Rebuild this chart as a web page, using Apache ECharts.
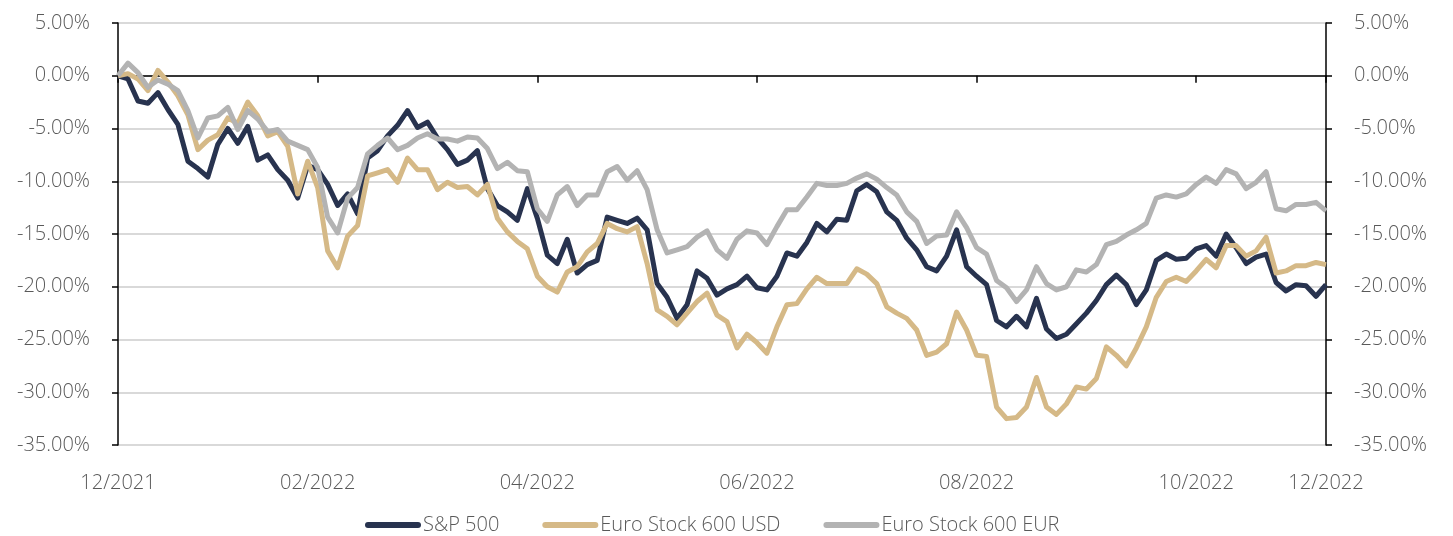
<!DOCTYPE html>
<html>
<head>
<meta charset="utf-8">
<title>S&amp;P 500 vs Euro Stock 600</title>
<script src="https://cdn.jsdelivr.net/npm/echarts@6/dist/echarts.min.js"></script>
<style>
    html, body { margin: 0; padding: 0; background: #fff; }
    #main { width: 1453px; height: 536px; }
</style>
</head>
<body>
<div id="main"></div>
<script>
// performance since 12/2021, in %
var sp500 = [0, -0.3, -2.4, -2.6, -1.6, -3.2, -4.6, -8.1, -8.8, -9.6, -6.5, -5.0, -6.4, -4.8, -8.0, -7.5, -8.9, -9.9, -11.6, -8.5,
    -8.9, -10.3, -12.3, -11.2, -13.1, -7.8, -7.1, -5.7, -4.7, -3.3, -4.9, -4.4, -5.9, -7.0, -8.4, -8.0, -7.1, -10.7, -12.3, -12.9,
    -13.7, -10.7, -13.5, -17.0, -17.8, -15.5, -18.7, -17.9, -17.5, -13.4, -13.7, -14.0, -13.5, -14.6, -19.7, -21.0, -23.0, -21.7, -18.5, -19.2,
    -20.8, -20.2, -19.8, -19.0, -20.1, -20.3, -19.0, -16.8, -17.1, -15.8, -14.0, -14.8, -13.6, -13.7, -10.9, -10.3, -11.0, -12.9, -13.7, -15.4,
    -16.5, -18.1, -18.5, -17.1, -14.6, -18.1, -19.0, -19.8, -23.2, -23.8, -22.8, -23.8, -21.1, -24.0, -24.9, -24.5, -23.5, -22.5, -21.3, -19.8,
    -18.9, -19.8, -21.7, -20.3, -17.5, -16.9, -17.4, -17.3, -16.4, -16.1, -17.1, -15.0, -16.3, -17.8, -17.2, -16.9, -19.6, -20.4, -19.8, -19.9,
    -20.9, -19.8];
var euroUsd = [0, 0.2, -0.3, -1.4, 0.5, -0.6, -1.9, -3.7, -7.0, -6.1, -5.6, -4.0, -4.5, -2.5, -3.8, -5.7, -5.3, -6.7, -11.2, -8.1,
    -10.6, -16.6, -18.2, -15.2, -14.2, -9.5, -9.2, -8.9, -10.1, -7.8, -8.9, -8.9, -10.8, -10.1, -10.6, -10.5, -11.3, -10.3, -13.5, -14.8,
    -15.7, -16.4, -19.0, -20.0, -20.5, -18.6, -18.1, -16.7, -15.9, -14.0, -14.5, -14.8, -14.3, -17.8, -22.2, -22.8, -23.6, -22.5, -21.4, -20.6,
    -22.7, -23.3, -25.8, -24.5, -25.3, -26.3, -23.8, -21.7, -21.6, -20.2, -19.1, -19.7, -19.7, -19.7, -18.3, -18.8, -19.7, -21.9, -22.5, -23.0,
    -24.1, -26.5, -26.2, -25.4, -22.4, -24.1, -26.5, -26.6, -31.4, -32.5, -32.4, -31.4, -28.6, -31.4, -32.1, -31.1, -29.5, -29.7, -28.7, -25.7,
    -26.5, -27.5, -25.8, -23.8, -21.0, -19.5, -19.1, -19.5, -18.5, -17.4, -18.2, -16.1, -16.1, -17.1, -16.6, -15.3, -18.7, -18.5, -18.0, -18.0,
    -17.7, -17.9];
var euroEur = [0, 1.2, 0.3, -1.1, -0.4, -0.8, -1.4, -3.3, -5.9, -4.0, -3.8, -3.0, -5.1, -3.3, -4.1, -5.3, -5.1, -6.2, -6.6, -7.0,
    -8.7, -13.4, -14.9, -11.6, -10.6, -7.4, -6.6, -5.9, -7.0, -6.6, -5.9, -5.5, -6.0, -6.0, -6.2, -5.8, -5.9, -6.9, -8.8, -8.2,
    -9.0, -9.1, -12.6, -13.8, -11.3, -10.5, -12.3, -11.3, -11.3, -9.1, -8.6, -9.9, -9.0, -10.8, -14.6, -16.8, -16.5, -16.2, -15.3, -14.7,
    -16.5, -17.3, -15.5, -14.7, -14.9, -16.0, -14.3, -12.7, -12.7, -11.5, -10.2, -10.4, -10.4, -10.2, -9.7, -9.3, -9.8, -10.6, -11.3, -12.9,
    -13.8, -15.9, -15.2, -15.1, -12.9, -14.4, -16.3, -16.9, -19.4, -20.1, -21.4, -20.3, -18.1, -19.7, -20.3, -20.0, -18.4, -18.6, -17.9, -16.0,
    -15.7, -15.1, -14.6, -14.0, -11.6, -11.3, -11.5, -11.2, -10.3, -9.6, -10.2, -8.9, -9.3, -10.7, -10.1, -9.1, -12.6, -12.8, -12.2, -12.2,
    -12.0, -12.8];

// x axis labels and the points they sit on
var tickIdx = [0, 20, 42, 64, 86, 108, 121];
var tickLabels = ['12/2021', '02/2022', '04/2022', '06/2022', '08/2022', '10/2022', '12/2022'];

var seriesNames = ['S&P 500', 'Euro Stock 600 USD', 'Euro Stock 600 EUR'];
var colors = ['#28334f', '#d5b987', '#b3b3b3'];

var categories = sp500.map(function (v, i) { return i; });

function isTick(index) {
    return tickIdx.indexOf(index) > -1;
}

var font = { color: '#595959', fontSize: 20, fontFamily: 'Open Sans', fontWeight: 300 };

var yAxisBase = {
    type: 'value',
    min: -35,
    max: 5,
    interval: 5,
    axisLine: { show: true, lineStyle: { color: '#000', width: 1.5 } },
    axisTick: { show: true, length: 6, lineStyle: { color: '#000', width: 1.5 } },
    axisLabel: {
        color: font.color, fontSize: font.fontSize, fontFamily: font.fontFamily, fontWeight: font.fontWeight,
        margin: 28,
        formatter: function (v) { return v.toFixed(2) + '%'; }
    }
};

var myChart = echarts.init(document.getElementById('main'));
var option = {
    animation: false,
    grid: { left: 118, right: 127, top: 23, bottom: 91 },
    legend: {
        top: 510,
        left: 360,
        // capsule shaped line key
        icon: 'path://M3,0 H53 A3,3 0 0 1 53,6 H3 A3,3 0 0 1 3,0 Z',
        itemWidth: 56,
        itemHeight: 6,
        itemGap: 43,
        textStyle: {
            color: font.color, fontSize: font.fontSize, fontFamily: font.fontFamily, fontWeight: font.fontWeight,
            padding: [0, 0, 0, -3]
        },
        data: seriesNames
    },
    xAxis: [{
        // labels at the bottom
        type: 'category',
        data: categories,
        boundaryGap: false,
        axisLine: { show: false, onZero: false },
        axisTick: { show: false },
        splitLine: { show: false },
        axisLabel: {
            color: font.color, fontSize: font.fontSize, fontFamily: font.fontFamily, fontWeight: font.fontWeight,
            margin: 28,
            interval: function (index) { return isTick(index); },
            formatter: function (value, index) { return tickLabels[tickIdx.indexOf(index)]; }
        }
    }, {
        // axis line crossing at 0%
        type: 'category',
        data: categories,
        boundaryGap: false,
        position: 'bottom',
        axisLine: { show: true, onZero: true, lineStyle: { color: '#000', width: 1.5 } },
        axisTick: { show: true, length: 7, interval: function (index) { return isTick(index); }, lineStyle: { color: '#000', width: 1.5 } },
        axisLabel: { show: false },
        splitLine: { show: false }
    }],
    yAxis: [
        echarts.util.merge({
            position: 'left',
            splitLine: { show: true, lineStyle: { color: '#d9d9d9', width: 2 } }
        }, yAxisBase),
        echarts.util.merge({
            position: 'right',
            splitLine: { show: false },
            axisLabel: { align: 'left' }
        }, yAxisBase)
    ],
    series: [sp500, euroUsd, euroEur].map(function (d, i) {
        return {
            name: seriesNames[i],
            type: 'line',
            data: d,
            showSymbol: false,
            symbol: 'none',
            color: colors[i],
            lineStyle: { width: 5, color: colors[i], join: 'round' }
        };
    })
};
myChart.setOption(option);
</script>
</body>
</html>
